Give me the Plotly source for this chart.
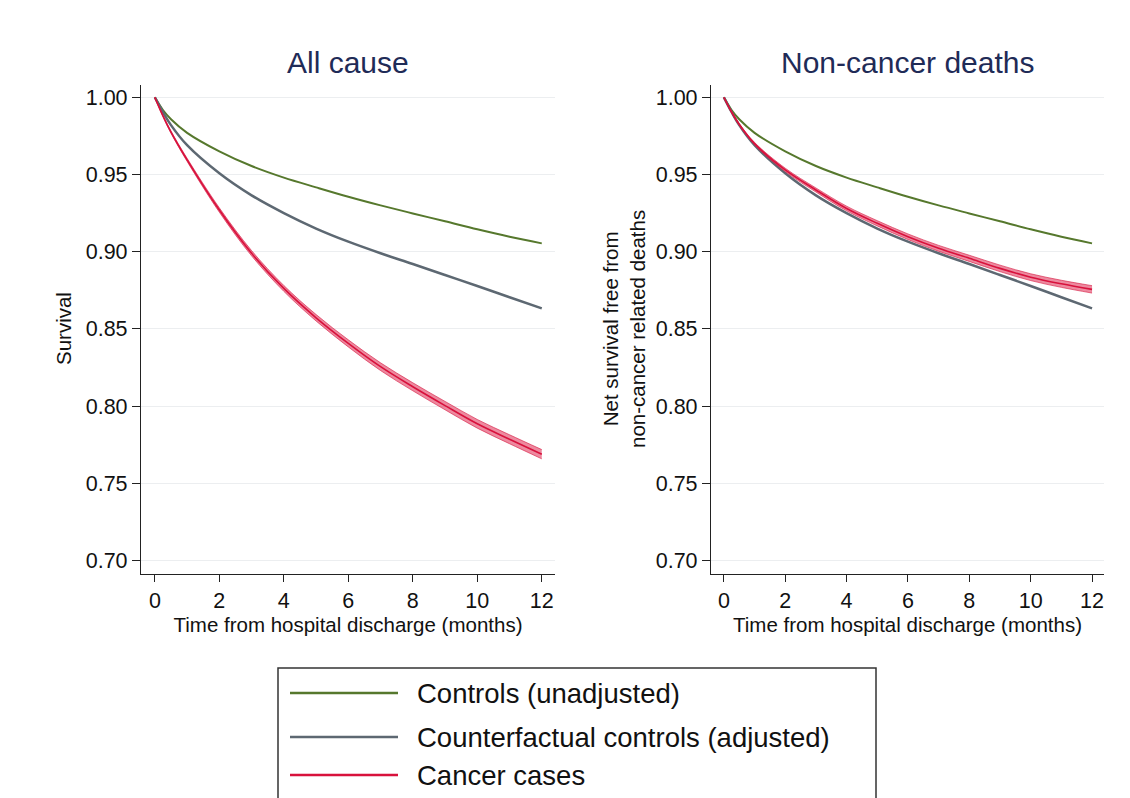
import plotly.graph_objects as go

# ---------------- data ----------------
time_months = [0, 0.25, 0.5, 1, 2, 3, 4, 5, 6, 7, 8, 9, 10, 11, 12]

controls_unadj = [1.000, 0.9918, 0.9858, 0.977, 0.965, 0.9555, 0.948, 0.9417, 0.9356,
                  0.930, 0.9248, 0.9197, 0.9145, 0.9097, 0.9054]
counterfactual_adj = [1.000, 0.9905, 0.982, 0.969, 0.9508, 0.9365, 0.925, 0.915, 0.9065,
                      0.899, 0.892, 0.8849, 0.8778, 0.8705, 0.8633]
cancer_all_cause = [1.000, 0.988, 0.9775, 0.9595, 0.927, 0.899, 0.8762, 0.8572, 0.8406,
                    0.8255, 0.8125, 0.8003, 0.7885, 0.7785, 0.7688]
cancer_all_cause_ci_hw = [0, 0.0004, 0.0007, 0.001, 0.0014, 0.0017, 0.0019, 0.0021, 0.0023,
                          0.0025, 0.0026, 0.0027, 0.0028, 0.0029, 0.003]
cancer_noncancer = [1.000, 0.9905, 0.9825, 0.970, 0.953, 0.940, 0.928, 0.9184, 0.9097,
                    0.9022, 0.8957, 0.8892, 0.8835, 0.8792, 0.8756]
cancer_noncancer_ci_hw = [0, 0.0004, 0.0006, 0.0008, 0.0011, 0.0013, 0.0015, 0.0017, 0.0018,
                          0.0019, 0.002, 0.0021, 0.0022, 0.0023, 0.0024]

panel_titles = ["All cause", "Non-cancer deaths"]
y_titles = ["Survival", "Net survival free from<br>non-cancer related deaths"]
x_title = "Time from hospital discharge (months)"
legend_labels = ["Controls (unadjusted)", "Counterfactual controls (adjusted)", "Cancer cases"]
y_ticks = [0.70, 0.75, 0.80, 0.85, 0.90, 0.95, 1.00]
x_ticks = [0, 2, 4, 6, 8, 10, 12]

# ---------------- styling ----------------
OFF = 8                      # page body margin of the html page
W, H = 1130 - OFF, 798 - OFF
GREEN = "#56782d"
GRAY = "#5d6872"
RED = "#d8113c"
BAND = "rgba(222, 40, 80, 0.55)"
FONT = "Liberation Sans, Arial, Helvetica, sans-serif"
TITLE_COLOR = "#1f2b57"


def px(x):
    return (x - OFF) / W


def py(y):
    return 1 - (y - OFF) / H


fig = go.Figure()

panels = [
    ("x", "y", cancer_all_cause, cancer_all_cause_ci_hw),
    ("x2", "y2", cancer_noncancer, cancer_noncancer_ci_hw),
]

for xa, ya, cancer, hw in panels:
    lo = [v - h for v, h in zip(cancer, hw)]
    hi = [v + h for v, h in zip(cancer, hw)]
    line_kw = dict(shape="spline", smoothing=1.0)
    fig.add_trace(go.Scatter(x=time_months, y=controls_unadj, xaxis=xa, yaxis=ya, mode="lines",
                             line=dict(color=GREEN, width=2, **line_kw), showlegend=False,
                             hoverinfo="skip"))
    fig.add_trace(go.Scatter(x=time_months, y=counterfactual_adj, xaxis=xa, yaxis=ya, mode="lines",
                             line=dict(color=GRAY, width=2.5, **line_kw), showlegend=False,
                             hoverinfo="skip"))
    fig.add_trace(go.Scatter(x=time_months, y=lo, xaxis=xa, yaxis=ya, mode="lines",
                             line=dict(color="rgba(215,30,70,0.8)", width=0.8, **line_kw),
                             showlegend=False, hoverinfo="skip"))
    fig.add_trace(go.Scatter(x=time_months, y=hi, xaxis=xa, yaxis=ya, mode="lines",
                             line=dict(color="rgba(215,30,70,0.8)", width=0.8, **line_kw),
                             fill="tonexty", fillcolor=BAND, showlegend=False, hoverinfo="skip"))
    fig.add_trace(go.Scatter(x=time_months, y=cancer, xaxis=xa, yaxis=ya, mode="lines",
                             line=dict(color=RED, width=1.6, **line_kw), showlegend=False,
                             hoverinfo="skip"))

common_x = dict(
    tickvals=x_ticks, ticks="outside", ticklen=7, tickwidth=1.2, tickcolor="#222",
    showline=True, linecolor="#222", linewidth=1.2, showgrid=False, zeroline=False,
    tickfont=dict(family=FONT, size=21.5, color="#111"),
    title=dict(text=x_title, font=dict(family=FONT, size=20.5, color="#111"), standoff=0),
)
common_y = dict(
    tickvals=y_ticks, tickformat=".2f", ticks="outside", ticklen=8, tickwidth=1.2,
    tickcolor="#222", showline=True, linecolor="#222", linewidth=1.2, showgrid=True,
    gridcolor="#eceef0", gridwidth=1, zeroline=False, range=[0.6912, 1.008],
    tickfont=dict(family=FONT, size=21.5, color="#111"),
)

fig.update_layout(
    width=W, height=H,
    margin=dict(l=0, r=0, t=0, b=0),
    paper_bgcolor="white", plot_bgcolor="white",
    xaxis=dict(domain=[px(141), px(555)], range=[-0.43, 12.41], anchor="y", **common_x),
    yaxis=dict(domain=[py(574), py(85)], anchor="x", **common_y),
    xaxis2=dict(domain=[px(711), px(1104)], range=[-0.42, 12.39], anchor="y2", **common_x),
    yaxis2=dict(domain=[py(574), py(85)], anchor="x2", **common_y),
    showlegend=False,
)

annotations = []
# panel titles
for cx, t in zip([348, 907], panel_titles):
    annotations.append(dict(x=px(cx), y=py(62), xref="paper", yref="paper", text=t,
                            showarrow=False, xanchor="center", yanchor="middle",
                            font=dict(family=FONT, size=30, color=TITLE_COLOR)))
# y axis titles
annotations.append(dict(x=px(64), y=py(329), xref="paper", yref="paper", text=y_titles[0],
                        showarrow=False, textangle=-90, xanchor="center", yanchor="middle",
                        font=dict(family=FONT, size=20.5, color="#111")))
annotations.append(dict(x=px(624), y=py(329), xref="paper", yref="paper", text=y_titles[1],
                        showarrow=False, textangle=-90, xanchor="center", yanchor="middle",
                        font=dict(family=FONT, size=20.5, color="#111")))

# manual legend
shapes = [dict(type="rect", xref="paper", yref="paper", x0=px(278), x1=px(876),
               y0=py(830), y1=py(668), line=dict(color="#333", width=1.5),
               fillcolor="rgba(0,0,0,0)")]
legend_y = [693, 737, 775]
for lbl, col, ly in zip(legend_labels, [GREEN, GRAY, RED], legend_y):
    shapes.append(dict(type="line", xref="paper", yref="paper", x0=px(290), x1=px(398),
                       y0=py(ly), y1=py(ly), line=dict(color=col, width=2.5)))
    annotations.append(dict(x=px(415), y=py(ly), xref="paper", yref="paper", text=lbl,
                            showarrow=False, xanchor="left", yanchor="middle",
                            font=dict(family=FONT, size=27.5, color="#111")))

fig.update_layout(annotations=annotations, shapes=shapes)

fig.write_html("out.html")
